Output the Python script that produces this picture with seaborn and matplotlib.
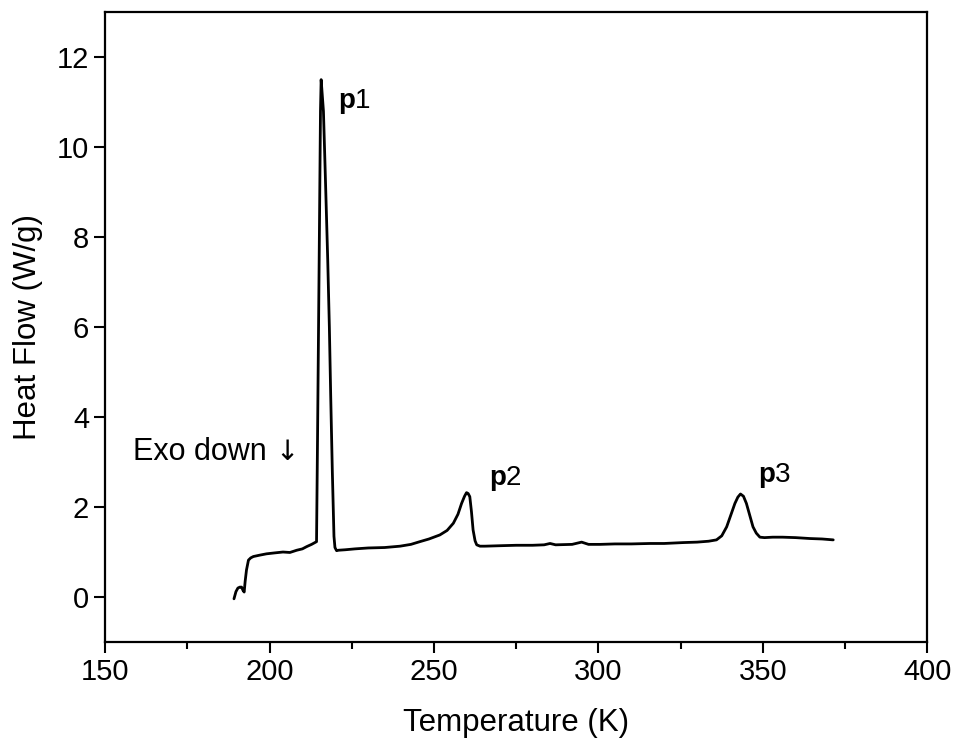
import seaborn as sns
import numpy as np
import pandas as pd
import matplotlib.pyplot as plt
from matplotlib.ticker import MultipleLocator

# DSC heating curve
temperature = [189.2, 189.8, 190.4, 191.0, 191.5, 192.0, 192.3, 192.6, 193.0, 193.6,
               194.3, 195.1, 197.0, 199.1, 201.5, 204.1, 206.2, 208.3, 210.0, 211.3,
               212.8, 214.3, 214.6, 215.1, 215.5, 215.7, 215.9, 216.4, 217.0, 217.7,
               218.2, 218.6, 219.1, 219.6, 219.9, 220.4, 221.0, 223.0, 226.0, 230.0,
               235.0, 239.7, 243.0, 245.7, 248.5, 251.8, 254.0, 255.9, 257.3, 258.4,
               259.3, 259.9, 260.4, 260.9, 261.4, 261.9, 262.5, 263.0, 264.0, 265.5,
               270.0, 275.0, 280.0, 283.5, 285.3, 287.0, 292.0, 294.9, 297.0, 300.5,
               305.0, 310.0, 315.7, 320.0, 325.8, 330.0, 333.5, 335.9, 337.5, 339.0,
               340.3, 341.5, 342.4, 343.2, 344.1, 345.0, 346.0, 347.0, 348.0, 349.1,
               350.5, 353.0, 356.0, 360.0, 364.3, 368.0, 371.4]
heat_flow = [-0.04, 0.12, 0.20, 0.22, 0.22, 0.14, 0.11, 0.35, 0.60, 0.82,
             0.87, 0.90, 0.93, 0.96, 0.98, 1.00, 0.99, 1.04, 1.07, 1.12,
             1.17, 1.23, 3.5, 7.5, 10.8, 11.5, 11.3, 10.8, 9.3, 7.5,
             6.0, 4.5, 2.8, 1.35, 1.10, 1.03, 1.04, 1.05, 1.07, 1.09,
             1.10, 1.13, 1.17, 1.23, 1.29, 1.38, 1.48, 1.64, 1.84, 2.08,
             2.24, 2.32, 2.30, 2.23, 1.90, 1.49, 1.25, 1.16, 1.13, 1.13,
             1.14, 1.15, 1.15, 1.16, 1.19, 1.16, 1.17, 1.22, 1.17, 1.17,
             1.18, 1.18, 1.19, 1.19, 1.21, 1.22, 1.24, 1.27, 1.36, 1.56,
             1.83, 2.08, 2.22, 2.29, 2.24, 2.08, 1.82, 1.56, 1.42, 1.33,
             1.32, 1.33, 1.33, 1.32, 1.30, 1.29, 1.27]

peak_labels = ['1', '2', '3']
peak_label_x = [220.8, 266.8, 348.6]
peak_label_y = [10.87, 2.49, 2.56]

df = pd.DataFrame({'T': temperature, 'HF': heat_flow})

sns.set_style('ticks')
plt.rcParams['font.family'] = ['Liberation Sans', 'DejaVu Sans']
plt.rcParams['mathtext.fontset'] = 'custom'
plt.rcParams['mathtext.rm'] = 'Liberation Sans'
plt.rcParams['mathtext.bf'] = 'Liberation Sans:bold'
plt.rcParams['text.color'] = 'black'
plt.rcParams['axes.labelcolor'] = 'black'

fig = plt.figure(figsize=(9.55, 7.41), dpi=100)
ax = fig.add_axes([0.110, 0.1336, 0.861, 0.850])

sns.lineplot(data=df, x='T', y='HF', sort=False, estimator=None,
             color='black', linewidth=2.0, ax=ax)

ax.set_xlim(150, 400)
ax.set_ylim(-1, 13)
ax.xaxis.set_major_locator(MultipleLocator(50))
ax.xaxis.set_minor_locator(MultipleLocator(25))
ax.yaxis.set_major_locator(MultipleLocator(2))
ax.tick_params(axis='both', which='major', direction='out', length=8, width=1.5,
               labelsize=21, colors='black')
ax.tick_params(axis='x', which='minor', direction='out', length=5, width=1.5,
               colors='black')
for s in ax.spines.values():
    s.set_linewidth(1.6)
    s.set_color('black')

ax.set_xlabel('Temperature (K)', fontsize=22.5, labelpad=16)
ax.set_ylabel('Heat Flow (W/g)', fontsize=22.5, labelpad=10)

for lab, px, py in zip(peak_labels, peak_label_x, peak_label_y):
    ax.text(px, py, r'$\mathbf{p}$' + lab, fontsize=20, va='baseline', ha='left')

ax.text(158.5, 3.04, 'Exo down', fontsize=22, va='baseline', ha='left')
ax.text(201.8, 3.04, '\u2193', fontsize=20, va='baseline', ha='left',
        family=['DejaVu Sans'])

fig.savefig('out.png', dpi=100)
